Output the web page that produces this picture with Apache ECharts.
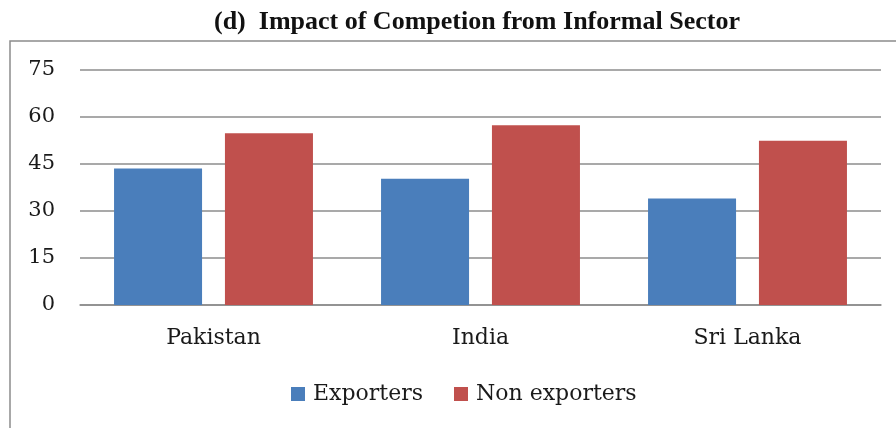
<!DOCTYPE html>
<html>
<head>
<meta charset="utf-8">
<script src="https://cdn.jsdelivr.net/npm/echarts@6/dist/echarts.min.js"></script>
<style>
  html, body { margin: 0; padding: 0; background: #ffffff; }
  #chart { width: 896px; height: 428px; }
</style>
</head>
<body>
<div id="chart"></div>
<script>
// Share of firms reporting impact of competition from the informal sector (%)
const titleText = '(d)  Impact of Competion from Informal Sector';
const countries = ['Pakistan', 'India', 'Sri Lanka'];
const seriesNames = ['Exporters', 'Non exporters'];
const exporters = [43.6, 40.3, 34.0];
const nonExporters = [54.8, 57.4, 52.4];
const yTicks = { min: 0, max: 75, interval: 15 };

const blue = '#4a7ebb';
const red = '#c0504d';
const serif = 'DejaVu Serif';

const chart = echarts.init(document.getElementById('chart'), null, { renderer: 'canvas' });

chart.setOption({
  animation: false,
  backgroundColor: '#ffffff',
  title: {
    text: titleText,
    left: 214,
    top: 9,
    padding: 0,
    textStyle: {
      fontFamily: 'Liberation Serif',
      fontWeight: 'bold',
      fontSize: 26,
      color: '#111111'
    }
  },
  graphic: [{
    type: 'rect',
    shape: { x: 10, y: 41, width: 900, height: 420 },
    style: { fill: 'none', stroke: '#8c8c8c', lineWidth: 1.5 },
    z: -1
  }],
  legend: {
    data: seriesNames,
    left: 291,
    top: 383,
    padding: 0,
    itemWidth: 14,
    itemHeight: 14,
    itemGap: 31,
    icon: 'rect',
    textStyle: { fontFamily: serif, fontSize: 22, color: '#1a1a1a', padding: [0, 0, 0, 3] }
  },
  grid: { left: 80, right: 15, top: 70, bottom: 123 },
  xAxis: {
    type: 'category',
    data: countries,
    axisTick: { show: false },
    axisLine: { lineStyle: { color: '#8c8c8c', width: 1.5 } },
    axisLabel: { fontFamily: serif, fontSize: 22, color: '#1a1a1a', margin: 22 }
  },
  yAxis: {
    type: 'value',
    min: yTicks.min,
    max: yTicks.max,
    interval: yTicks.interval,
    axisLine: { show: false },
    axisTick: { show: false },
    axisLabel: { fontFamily: serif, fontSize: 21, color: '#1a1a1a', margin: 25 },
    splitLine: { lineStyle: { color: '#8c8c8c', width: 1.5 } }
  },
  series: [
    {
      name: seriesNames[0],
      type: 'bar',
      data: exporters,
      itemStyle: { color: blue },
      barGap: '26%',
      barCategoryGap: '25.5%'
    },
    {
      name: seriesNames[1],
      type: 'bar',
      data: nonExporters,
      itemStyle: { color: red },
      barGap: '26%',
      barCategoryGap: '25.5%'
    }
  ]
});
</script>
</body>
</html>
